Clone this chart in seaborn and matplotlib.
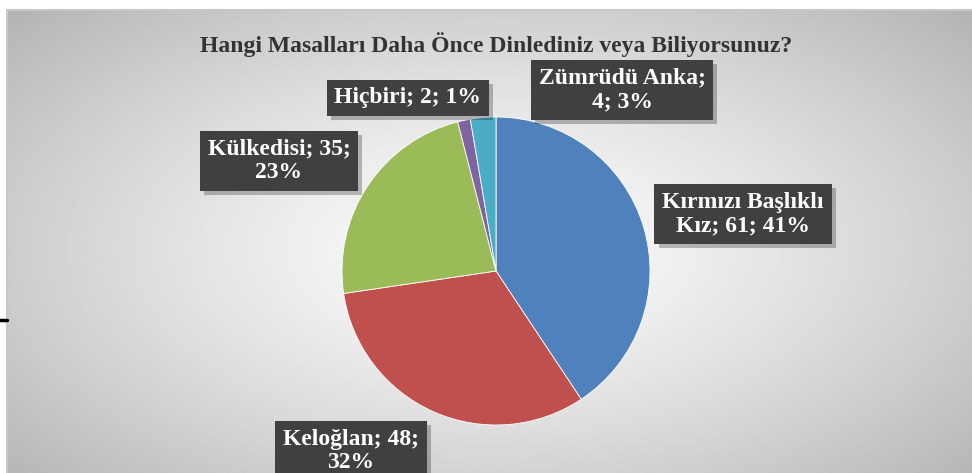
import textwrap
import numpy as np
import matplotlib
matplotlib.use('Agg')
import matplotlib.pyplot as plt
import matplotlib.patheffects as pe
import seaborn as sns

# data
tales = ['Kırmızı Başlıklı Kız', 'Keloğlan', 'Külkedisi', 'Hiçbiri', 'Zümrüdü Anka']
counts = [61, 48, 35, 2, 4]
colors = ['#4F81BD', '#C0504D', '#9BBB59', '#8064A2', '#4BACC6']
title = 'Hangi Masalları Daha Önce Dinlediniz veya Biliyorsunuz?'

# layout (figure pixels, origin top-left)
W, H = 972, 473
pie_center = (496, 271)
pie_radius = 154
label_pos = [(743, 214), (351, 451), (279, 161), (408, 98), (622, 90)]
wrap_width = [16, 13, 14, 20, 13]

sns.set_style('white')
plt.rcParams['font.family'] = ['Liberation Serif', 'DejaVu Serif']

fig = plt.figure(figsize=(W / 100, H / 100), dpi=100)

# background panel with soft radial gradient
bg = fig.add_axes([0, 0, 1, 1])
bg.set_xlim(0, W)
bg.set_ylim(H, 0)
bg.axis('off')
px, py = np.meshgrid(np.linspace(7, W, 400), np.linspace(10, H, 200))
r = np.sqrt(((px - 490) / 480) ** 2 + ((py - 250) / 250) ** 2)
shade = np.clip(253 - 48 * r ** 1.3, 170, 255) / 255
bg.imshow(shade, cmap='gray', vmin=0, vmax=1, extent=(7, W, H, 10), aspect='auto', interpolation='bilinear')
bg.plot([7, W], [10, 10], color='#c8c8c8', lw=1.5)
bg.plot([7, 7], [10, H], color='#c8c8c8', lw=1.5)
bg.plot([0, 7], [320, 320], color='black', lw=2.5)

# pie
cx, cy = pie_center
ax = fig.add_axes([(cx - pie_radius) / W, (H - cy - pie_radius) / H, 2 * pie_radius / W, 2 * pie_radius / H])
ax.pie(counts, colors=sns.color_palette(colors), startangle=90, counterclock=False,
       wedgeprops=dict(edgecolor='white', linewidth=0.6))
ax.set_xlim(-1, 1)
ax.set_ylim(-1, 1)
ax.set_aspect('equal')

fig.text(cx / W, 1 - 45 / H, title, ha='center', va='center', fontsize=17,
         fontweight='bold', color='#333333')

total = sum(counts)
for name, n, (lx, ly), w in zip(tales, counts, label_pos, wrap_width):
    s = textwrap.fill(f'{name}; {n}; {round(100 * n / total)}%', width=w)
    t = fig.text(lx / W, 1 - ly / H, s, ha='center', va='center', fontsize=17,
                 fontweight='bold', color='white', linespacing=1.15,
                 bbox=dict(boxstyle='square,pad=0.33', fc='#404040', ec='none'))
    t.get_bbox_patch().set_path_effects([pe.withSimplePatchShadow(offset=(3, -3), shadow_rgbFace='black', alpha=0.25)])

fig.savefig('out.png', dpi=100)
